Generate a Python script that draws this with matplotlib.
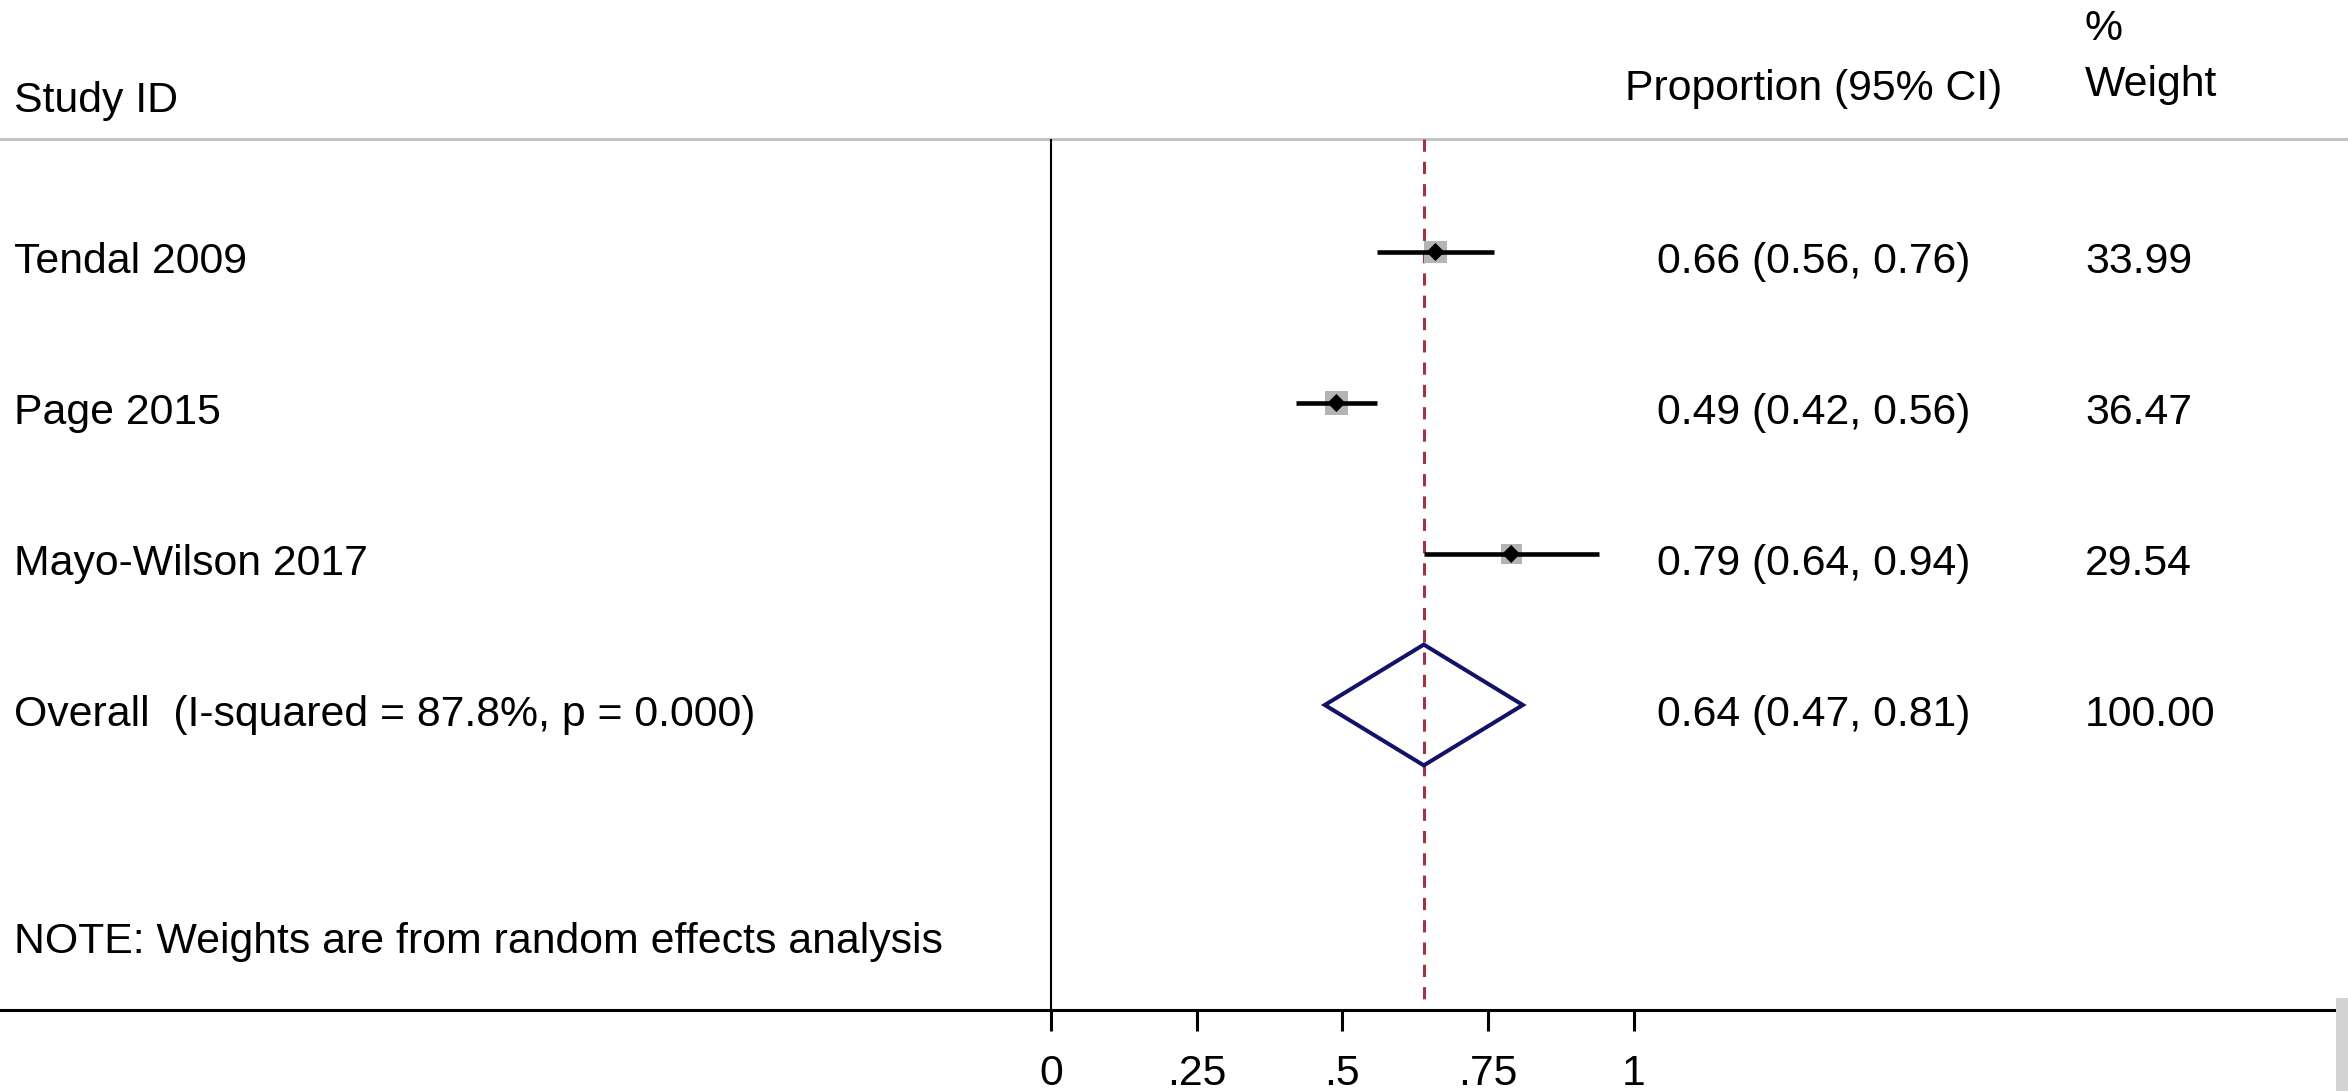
import matplotlib
matplotlib.use('Agg')
from matplotlib import pyplot as plt
from matplotlib import transforms
from matplotlib.patches import Polygon, Rectangle

# study data
studies = ['Tendal 2009', 'Page 2015', 'Mayo-Wilson 2017']
est = [0.66, 0.49, 0.79]
lo = [0.56, 0.42, 0.64]
hi = [0.76, 0.56, 0.94]
weights = [33.99, 36.47, 29.54]

overall_label = 'Overall  (I-squared = 87.8%, p = 0.000)'
overall_est, overall_lo, overall_hi = 0.64, 0.47, 0.81
overall_weight = 100.00

note = 'NOTE: Weights are from random effects analysis'
xticks = [0, 0.25, 0.5, 0.75, 1]
xticklabels = ['0', '.25', '.5', '.75', '1']

plt.rcParams['font.family'] = ['Liberation Sans', 'DejaVu Sans']
fs = 30.8

fig = plt.figure(figsize=(23.48, 10.91), dpi=100)
# axes runs from the top of the figure down to the x axis line
ax = fig.add_axes([0, 81 / 1091, 2336 / 2348, 1010 / 1091])
ax.set_xlim(-1051 / 582.5, (2336 - 1051) / 582.5)
ax.set_ylim(5.02, -1.669)

rows = list(range(len(studies)))
overall_row = len(studies)
top_line = -0.75

# header separator (grey) and reference lines
ax.axhline(top_line, xmin=0, xmax=2348 / 2336, color='#c4c4c4', lw=2.2, clip_on=False)
ax.vlines(0, top_line, 5.02, color='black', lw=1.5)
ax.vlines(overall_est, top_line, 5.02, color='#a03442', lw=2.2,
          linestyles=[(0, (4, 3.3))])

# confidence intervals, weight boxes, point estimates
ax.hlines(rows, lo, hi, color='black', lw=3.3, zorder=3)
ax.scatter(est, rows, marker='s', s=[7.6 * w for w in weights],
           color='#b4b4b4', edgecolors='none', zorder=2)
ax.scatter(est, rows, marker='D', s=85, color='black', edgecolors='none', zorder=4)

# overall diamond
diamond = Polygon([(overall_lo, overall_row), (overall_est, overall_row - 0.4),
                   (overall_hi, overall_row), (overall_est, overall_row + 0.4)],
                  closed=True, fill=False, edgecolor='#121268', lw=2.9,
                  joinstyle='miter', zorder=3)
ax.add_patch(diamond)

# text columns: x in figure fraction, y in row units
trans = transforms.blended_transform_factory(fig.transFigure, ax.transData)
x_lab, x_ci_head, x_ci, x_w = 14 / 2348, 1625 / 2348, 1657 / 2348, 2085 / 2348
off = 0.139

ax.text(x_lab, -0.927, 'Study ID', transform=trans, fontsize=fs, va='baseline')
ax.text(x_ci_head, -1.007, 'Proportion (95% CI)', transform=trans, fontsize=fs, va='baseline')
ax.text(x_w, -1.404, '%', transform=trans, fontsize=fs, va='baseline')
ax.text(x_w, -1.033, 'Weight', transform=trans, fontsize=fs, va='baseline')

for r, name, e, l, h, w in zip(rows, studies, est, lo, hi, weights):
    ax.text(x_lab, r + off, name, transform=trans, fontsize=fs, va='baseline')
    ax.text(x_ci, r + off, '%.2f (%.2f, %.2f)' % (e, l, h), transform=trans,
            fontsize=fs, va='baseline')
    ax.text(x_w, r + off, '%.2f' % w, transform=trans, fontsize=fs, va='baseline')

ax.text(x_lab, overall_row + off, overall_label, transform=trans, fontsize=fs, va='baseline')
ax.text(x_ci, overall_row + off, '%.2f (%.2f, %.2f)' % (overall_est, overall_lo, overall_hi),
        transform=trans, fontsize=fs, va='baseline')
ax.text(x_w, overall_row + off, '%.2f' % overall_weight, transform=trans,
        fontsize=fs, va='baseline')
ax.text(x_lab, 4.642, note, transform=trans, fontsize=fs, va='baseline')

# x axis
for side in ['top', 'left', 'right']:
    ax.spines[side].set_visible(False)
ax.spines['bottom'].set_linewidth(2.2)
ax.set_xticks(xticks, xticklabels)
ax.set_yticks([])
ax.tick_params(axis='x', length=15, width=2.2, pad=17, labelsize=fs)

# grey strip in the bottom-right corner
fig.add_artist(Rectangle((2336 / 2348, 0), 12 / 2348, 93 / 1091,
                         transform=fig.transFigure, color='#d3d3d3', lw=0))

fig.savefig('out.png', dpi=100)
